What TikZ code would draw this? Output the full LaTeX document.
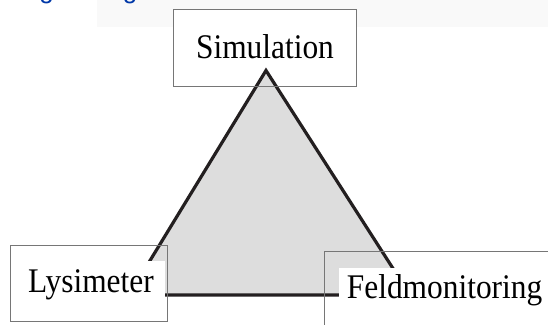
\documentclass[tikz,border=0pt]{standalone}
\usepackage{fontspec}
\setmainfont{Liberation Serif}
\newfontfamily\headfont{Liberation Sans}
\definecolor{headblue}{RGB}{0,56,168}
\definecolor{bandgray}{RGB}{249,249,249}
\definecolor{trifill}{RGB}{221,221,221}
\definecolor{triline}{RGB}{35,31,32}
\definecolor{boxline}{RGB}{118,118,118}
\newcommand{\tall}[1]{\scalebox{1}[1.1]{#1}}

\begin{document}
\begin{tikzpicture}[x=1pt,y=1pt,
  boxframe/.style={draw=boxline,line width=0.9pt,inner sep=0pt},
  labeltext/.style={font=\fontsize{31.4}{36}\selectfont,inner ysep=0pt},
  headtext/.style={font=\headfont\fontsize{26}{30}\selectfont,text=headblue,inner sep=0pt}]
\useasboundingbox (0,0) rectangle (548,324);
% faint band behind the (cut off) heading
\fill[bandgray] (97,297) rectangle (548,324);
\node[headtext,anchor=base] (g1) at (46.5,325.5) {g};
\node[headtext,anchor=base] (g2) at (130,325.5) {g};
% top box: white inside, frame drawn later over the triangle
\node[labeltext,fill=white,inner xsep=0pt,text height=23.5pt,text depth=3.6pt,minimum width=182pt,minimum height=76.7pt] (sim) at (265,275.7) {\tall{Simulation}};
% triangle
\coordinate (apex) at (266,253.5);
\coordinate (left) at (129,29);
\coordinate (right) at (410,29);
\filldraw[fill=trifill,draw=triline,line width=3.2pt] (apex) -- (left) -- (right) -- cycle;
% frames
\draw[boxframe] (sim.south west) rectangle (sim.north east);
\node[boxframe,minimum width=157pt,minimum height=76.7pt] (lysframe) at (88.5,40.65) {};
\node[boxframe,minimum width=236pt,minimum height=84pt] (feldframe) at (442,31) {};
% labels on white ground
\node[labeltext,fill=white,inner xsep=11pt,text height=31.7pt,text depth=10pt,anchor=base west] (lys) at (17,31.3) {\tall{Lysimeter}};
\node[labeltext,fill=white,inner xsep=8.4pt,text height=30pt,text depth=30pt,anchor=base west] (feld) at (338.3,25.7) {\tall{Feldmonitoring}};
\end{tikzpicture}
\end{document}
